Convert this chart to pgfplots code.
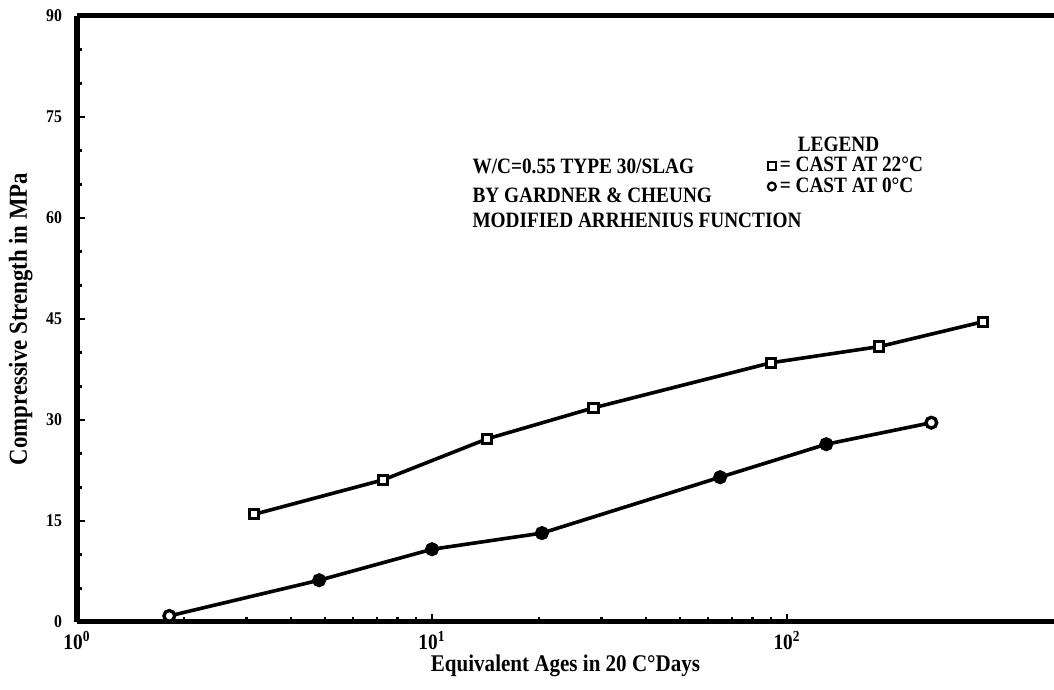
\documentclass[border=0pt]{standalone}
\usepackage{fontspec}
\setmainfont{Liberation Serif}[FakeStretch=0.88]
\usepackage{pgfplots}
\pgfplotsset{compat=1.18}
\usepackage{pgfplotstable}

% Compressive strength (MPa) against equivalent age (20 C days)
\pgfplotstableread{
age   strength
3.16  16.0
7.28  21.1
14.3  27.2
28.5  31.8
90.2  38.5
182   40.9
357   44.6
}\castwarm

\pgfplotstableread{
age   strength
1.82  0.9
4.81  6.2
10.0  10.8
20.4  13.2
64.8  21.5
129   26.4
255   29.6
}\castcold

\begin{document}
\begin{tikzpicture}
\begin{axis}[
  name=ax,
  scale only axis,
  width=488.5bp, height=303bp,
  xmode=log, xmin=1, xmax=565,
  ymin=0, ymax=90,
  ytick={0,15,...,90},
  minor y tick num=2,
  xtick={1,10,100},
  xticklabels={10\textsuperscript{0},10\textsuperscript{1},10\textsuperscript{2}},
  axis x line=box, axis y line=left,
  xtick pos=left,
  axis line style={line width=2.5bp, -},
  tick align=inside,
  major tick length=4bp, minor tick length=2.5bp,
  every tick/.style={black, line width=1.2bp},
  /pgf/number format/assume math mode=true,
  yticklabel style={font=\bfseries\fontsize{9}{10}\selectfont, xshift=-4bp},
  xticklabel style={font=\bfseries\fontsize{11}{12}\selectfont, yshift=-1bp},
  xlabel={Equivalent Ages in 20 C°Days},
  ylabel={Compressive Strength in MPa},
  xlabel style={font=\bfseries\fontsize{12}{13}\selectfont, yshift=4bp},
  ylabel style={font=\bfseries\fontsize{13}{14}\selectfont},
  legend style={draw=none, fill=none, at={(rel axis cs:0.705,0.808)}, anchor=north west,
    font=\bfseries\fontsize{11}{11}\selectfont, inner sep=0pt,
    row sep=-2.5bp},
  legend cell align=left,
  legend image code/.code={\draw[#1] plot coordinates {(0.1cm,0cm)};},
  clip=false,
]
\addplot[black, line width=1.8bp, mark=square*, mark size=2.3bp,
  mark options={fill=white, line width=1.5bp, solid}, forget plot]
  table[x=age, y=strength] {\castwarm};
\addplot[black, line width=1.8bp, mark=*, mark size=2.6bp,
  mark options={fill=black, solid}, forget plot]
  table[x=age, y=strength] {\castcold};
\addplot[only marks, black, mark=*, mark size=2.6bp, mark indices={1,7},
  mark options={fill=white, line width=1.5bp}, forget plot]
  table[x=age, y=strength] {\castcold};

\addlegendimage{empty legend}
\addlegendentry{\hspace{9bp}LEGEND}
\addlegendimage{only marks, black, mark=square*, mark size=2bp,
  mark options={fill=white, line width=1.1bp}}
\addlegendentry{= CAST AT 22°C}
\addlegendimage{only marks, black, mark=*, mark size=2bp,
  mark options={fill=white, line width=1.1bp}}
\addlegendentry{= CAST AT 0°C}

\begin{scope}[every node/.style={anchor=west, inner sep=0pt,
    font=\bfseries\fontsize{11}{12}\selectfont}]
  \node at (axis cs:12.97,67.6) {W/C=0.55 TYPE 30/SLAG};
  \node at (axis cs:12.97,63.4) {BY GARDNER \& CHEUNG};
  \node at (axis cs:12.97,59.7) {MODIFIED ARRHENIUS FUNCTION};
\end{scope}
\end{axis}
\pgfresetboundingbox
\path[use as bounding box] ([shift={(-38.5bp,-34bp)}]ax.south west)
  rectangle ([shift={(0bp,8bp)}]ax.north east);
\end{tikzpicture}
\end{document}
